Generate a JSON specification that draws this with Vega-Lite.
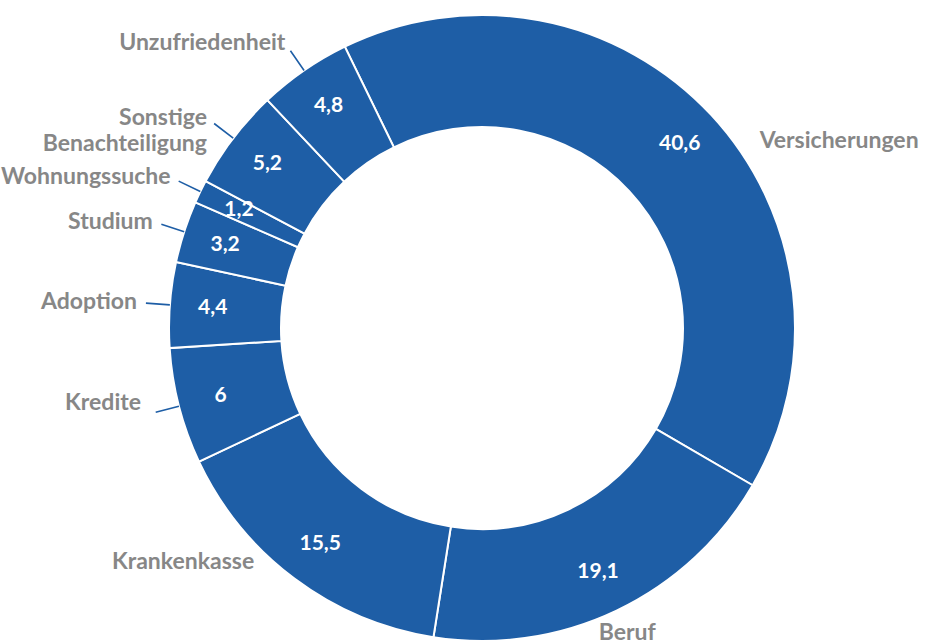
{
  "$schema": "https://vega.github.io/schema/vega-lite/v6.json",
  "width": 898,
  "height": 626,
  "autosize": {"type": "none"},
  "padding": {"left": 33, "top": 15, "right": 0, "bottom": 0},
  "background": "white",
  "config": {
    "view": {"stroke": null},
    "locale": {"number": {"decimal": ",", "thousands": ".", "grouping": [3], "currency": ["", " €"]}},
    "text": {"font": "Lato", "fontWeight": "bold"}
  },
  "data": {
    "values": [
      {"nr": 1, "kat": "Versicherungen", "wert": 40.6},
      {"nr": 2, "kat": "Beruf", "wert": 19.1},
      {"nr": 3, "kat": "Krankenkasse", "wert": 15.5},
      {"nr": 4, "kat": "Kredite", "wert": 6},
      {"nr": 5, "kat": "Adoption", "wert": 4.4},
      {"nr": 6, "kat": "Studium", "wert": 3.2},
      {"nr": 7, "kat": "Wohnungssuche", "wert": 1.2},
      {"nr": 8, "kat": "Sonstige Benachteiligung", "wert": 5.2},
      {"nr": 9, "kat": "Unzufriedenheit", "wert": 4.8}
    ]
  },
  "encoding": {
    "theta": {"field": "wert", "type": "quantitative", "stack": true, "scale": {"range": [-0.4538, 5.8294]}},
    "order": {"field": "nr", "type": "quantitative", "sort": "ascending"}
  },
  "layer": [
    {
      "mark": {"type": "arc", "innerRadius": 201, "outerRadius": 313, "fill": "#1e5ea6", "stroke": "white", "strokeWidth": 2}
    },
    {
      "mark": {"type": "arc", "innerRadius": 313, "outerRadius": 337, "padAngle": 3, "fillOpacity": 0, "stroke": "#1e5ea6", "strokeWidth": 1.6},
      "encoding": {
        "strokeOpacity": {"condition": {"test": "datum.nr >= 4", "value": 1}, "value": 0}
      }
    },
    {
      "mark": {"type": "text", "radius": 270, "fill": "white", "fontSize": 21, "baseline": "middle", "align": "center"},
      "encoding": {"text": {"field": "wert", "type": "quantitative", "format": ".1~f"}}
    },
    {
      "mark": {"type": "text", "radius": 346, "fill": "#878787", "fontSize": 23, "align": "right", "baseline": "middle", "lineBreak": " ", "lineHeight": 26},
      "encoding": {"text": {"condition": {"test": "datum.nr >= 5", "field": "kat"}, "value": ""}}
    },
    {
      "mark": {"type": "text", "radius": 346, "fill": "#878787", "fontSize": 23, "align": "right", "baseline": "middle", "dy": -12, "dx": -6},
      "encoding": {"text": {"condition": {"test": "datum.nr == 4", "field": "kat"}, "value": ""}}
    },
    {
      "mark": {"type": "text", "radius": 345, "fill": "#878787", "fontSize": 23, "align": "left", "baseline": "middle", "dx": 25, "dy": 48},
      "encoding": {"text": {"condition": {"test": "datum.nr == 1", "field": "kat"}, "value": ""}}
    },
    {
      "mark": {"type": "text", "radius": 338, "fill": "#878787", "fontSize": 23, "align": "center", "baseline": "middle"},
      "encoding": {"text": {"condition": {"test": "datum.nr == 2", "field": "kat"}, "value": ""}}
    },
    {
      "mark": {"type": "text", "radius": 330, "fill": "#878787", "fontSize": 23, "align": "right", "baseline": "middle", "dx": -30, "dy": -30},
      "encoding": {"text": {"condition": {"test": "datum.nr == 3", "field": "kat"}, "value": ""}}
    }
  ]
}
